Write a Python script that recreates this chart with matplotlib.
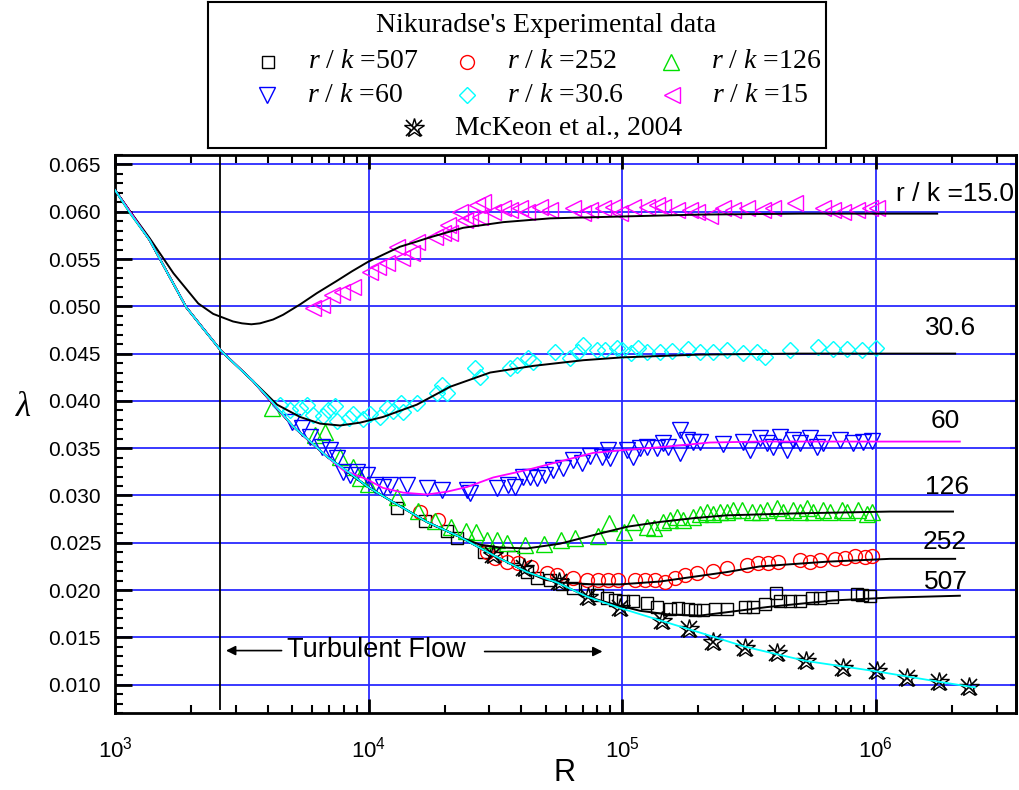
import matplotlib
matplotlib.use("Agg")
import matplotlib.pyplot as plt
from matplotlib.lines import Line2D
from matplotlib.ticker import MultipleLocator, NullLocator, LogLocator, LogFormatterMathtext

plt.rcParams["font.family"] = ["Liberation Sans", "DejaVu Sans"]
plt.rcParams["mathtext.fontset"] = "custom"
plt.rcParams["mathtext.it"] = "Liberation Serif:italic"
plt.rcParams["mathtext.rm"] = "Liberation Serif"

# ---- Nikuradse's data, friction factor vs Reynolds number ----
re_507 = [1.29e4, 1.67e4, 2.04e4, 2.23e4, 2.86e4, 3.72e4, 4.22e4, 4.62e4, 5.20e4, 5.80e4,
          6.41e4, 7.28e4, 7.96e4, 8.73e4, 9.38e4, 1.01e5, 1.10e5, 1.26e5, 1.37e5, 1.55e5,
          1.66e5, 1.82e5, 1.94e5, 2.09e5, 2.33e5, 2.59e5, 3.06e5, 3.29e5, 3.66e5, 4.05e5,
          4.20e5, 4.60e5, 5.04e5, 5.61e5, 6.04e5, 6.73e5, 8.45e5, 8.85e5, 9.51e5]
lam_507 = [0.0287, 0.0273, 0.0262, 0.0255, 0.0240, 0.0235, 0.0219, 0.0213, 0.0211, 0.0206,
           0.0202, 0.0200, 0.0195, 0.0192, 0.0189, 0.0188, 0.0188, 0.0186, 0.0182, 0.0180,
           0.0181, 0.0180, 0.0179, 0.0179, 0.0180, 0.0180, 0.0182, 0.0182, 0.0185, 0.0197,
           0.0188, 0.0188, 0.0188, 0.0192, 0.0192, 0.0193, 0.0196, 0.0195, 0.0194]

re_252 = [1.60e4, 1.88e4, 2.93e4, 3.16e4, 3.52e4, 3.89e4, 4.38e4, 5.06e4, 5.54e4, 6.41e4,
          7.28e4, 8.04e4, 8.81e4, 9.64e4, 1.12e5, 1.23e5, 1.35e5, 1.48e5, 1.62e5, 1.77e5,
          1.98e5, 2.29e5, 2.59e5, 3.11e5, 3.44e5, 3.77e5, 4.12e5, 5.04e5, 5.52e5, 6.04e5,
          6.92e5, 7.59e5, 8.30e5, 9.10e5, 9.69e5]
lam_252 = [0.0283, 0.0274, 0.0240, 0.0234, 0.0230, 0.0229, 0.0224, 0.0218, 0.0216, 0.0213,
           0.0211, 0.0211, 0.0211, 0.0211, 0.0211, 0.0211, 0.0211, 0.0209, 0.0213, 0.0216,
           0.0218, 0.0220, 0.0223, 0.0227, 0.0229, 0.0229, 0.0230, 0.0232, 0.0230, 0.0232,
           0.0233, 0.0234, 0.0236, 0.0235, 0.0236]

re_126 = [4.16e3, 6.15e3, 6.73e3, 7.72e3, 8.69e3, 9.26e3, 9.95e3, 1.29e4, 1.57e4, 1.83e4,
          2.11e4, 2.43e4, 2.66e4, 2.93e4, 3.21e4, 3.52e4, 4.14e4, 4.92e4, 5.74e4, 6.53e4,
          8.04e4, 8.89e4, 1.02e5, 1.10e5, 1.26e5, 1.34e5, 1.45e5, 1.55e5, 1.65e5, 1.74e5,
          1.91e5, 2.03e5, 2.16e5, 2.29e5, 2.44e5, 2.59e5, 2.74e5, 2.97e5, 3.26e5, 3.50e5,
          3.73e5, 4.08e5, 4.32e5, 4.73e5, 5.04e5, 5.37e5, 5.66e5, 6.21e5, 6.62e5, 7.38e5,
          7.73e5, 8.53e5, 9.25e5, 9.69e5]
lam_126 = [0.0393, 0.0364, 0.0367, 0.0341, 0.0330, 0.0319, 0.0312, 0.0298, 0.0284, 0.0273,
           0.0267, 0.0262, 0.0261, 0.0253, 0.0253, 0.0250, 0.0248, 0.0249, 0.0253, 0.0255,
           0.0257, 0.0271, 0.0261, 0.0272, 0.0267, 0.0266, 0.0272, 0.0274, 0.0277, 0.0274,
           0.0277, 0.0280, 0.0283, 0.0280, 0.0282, 0.0283, 0.0285, 0.0285, 0.0283, 0.0282,
           0.0285, 0.0287, 0.0282, 0.0285, 0.0282, 0.0287, 0.0282, 0.0285, 0.0282, 0.0285,
           0.0282, 0.0285, 0.0280, 0.0283]

re_60 = [4.99e3, 5.47e3, 5.88e3, 6.56e3, 7.05e3, 7.51e3, 7.93e3, 8.45e3, 9.01e3, 9.86e3,
         1.06e4, 1.14e4, 1.22e4, 1.42e4, 1.70e4, 1.95e4, 2.45e4, 2.51e4, 3.21e4, 3.55e4,
         3.78e4, 4.07e4, 4.34e4, 4.62e4, 4.97e4, 5.35e4, 5.85e4, 6.41e4, 6.95e4, 7.48e4,
         8.34e4, 8.81e4, 8.97e4, 1.05e5, 1.10e5, 1.18e5, 1.26e5, 1.37e5, 1.45e5, 1.52e5,
         1.69e5, 1.69e5, 1.80e5, 1.91e5, 2.03e5, 2.50e5, 3.00e5, 3.20e5, 3.50e5, 3.73e5,
         3.94e5, 4.20e5, 4.48e5, 4.73e5, 5.04e5, 5.52e5, 5.88e5, 6.21e5, 7.24e5, 8.15e5,
         8.93e5, 9.69e5]
lam_60 = [0.0378, 0.0371, 0.0362, 0.0351, 0.0348, 0.0340, 0.0325, 0.0322, 0.0325, 0.0322,
          0.0311, 0.0309, 0.0311, 0.0311, 0.0308, 0.0306, 0.0306, 0.0303, 0.0308, 0.0311,
          0.0309, 0.0320, 0.0320, 0.0319, 0.0322, 0.0327, 0.0329, 0.0337, 0.0334, 0.0342,
          0.0341, 0.0348, 0.0340, 0.0348, 0.0341, 0.0350, 0.0351, 0.0350, 0.0356, 0.0351,
          0.0369, 0.0345, 0.0359, 0.0357, 0.0357, 0.0354, 0.0357, 0.0348, 0.0361, 0.0356,
          0.0351, 0.0362, 0.0348, 0.0359, 0.0356, 0.0361, 0.0351, 0.0356, 0.0359, 0.0356,
          0.0357, 0.0358]

re_306 = [4.48e3, 4.90e3, 5.37e3, 5.72e3, 6.04e3, 6.62e3, 6.92e3, 7.38e3, 7.51e3, 8.38e3,
          8.69e3, 9.51e3, 1.01e4, 1.11e4, 1.18e4, 1.25e4, 1.34e4, 1.37e4, 1.55e4, 1.86e4,
          1.95e4, 2.04e4, 2.63e4, 2.75e4, 3.61e4, 3.85e4, 4.26e4, 4.46e4, 5.44e4, 6.24e4,
          6.70e4, 7.02e4, 7.96e4, 8.57e4, 9.55e4, 1.00e5, 1.08e5, 1.16e5, 1.26e5, 1.41e5,
          1.57e5, 1.82e5, 2.03e5, 2.29e5, 2.59e5, 3.00e5, 3.41e5, 3.66e5, 4.60e5, 5.93e5,
          6.79e5, 7.73e5, 8.85e5, 1.00e6]
lam_306 = [0.0396, 0.0390, 0.0393, 0.0396, 0.0385, 0.0384, 0.0390, 0.0395, 0.0379, 0.0382,
           0.0386, 0.0381, 0.0386, 0.0383, 0.0392, 0.0389, 0.0398, 0.0388, 0.0398, 0.0408,
           0.0417, 0.0408, 0.0435, 0.0425, 0.0435, 0.0438, 0.0445, 0.0441, 0.0452, 0.0445,
           0.0452, 0.0459, 0.0454, 0.0454, 0.0456, 0.0454, 0.0451, 0.0456, 0.0452, 0.0452,
           0.0453, 0.0455, 0.0452, 0.0452, 0.0454, 0.0451, 0.0452, 0.0446, 0.0454, 0.0457,
           0.0455, 0.0455, 0.0454, 0.0456]

re_15 = [6.04e3, 6.56e3, 7.18e3, 7.86e3, 8.69e3, 1.01e4, 1.09e4, 1.18e4, 1.29e4, 1.36e4,
         1.49e4, 1.55e4, 1.83e4, 1.97e4, 2.06e4, 2.10e4, 2.30e4, 2.40e4, 2.51e4, 2.68e4,
         2.83e4, 2.75e4, 3.10e4, 3.40e4, 3.61e4, 3.96e4, 4.22e4, 4.75e4, 5.20e4, 6.41e4,
         7.02e4, 7.48e4, 8.41e4, 9.21e4, 9.82e4, 1.10e5, 1.26e5, 1.37e5, 1.45e5, 1.65e5,
         1.85e5, 1.98e5, 2.22e5, 2.50e5, 2.74e5, 3.11e5, 3.60e5, 3.94e5, 4.81e5, 6.21e5,
         6.79e5, 7.44e5, 8.45e5, 9.51e5, 1.01e6]
lam_15 = [0.0498, 0.0501, 0.0512, 0.0515, 0.0520, 0.0536, 0.0542, 0.0546, 0.0563, 0.0551,
          0.0556, 0.0568, 0.0573, 0.0577, 0.0586, 0.0578, 0.0600, 0.0591, 0.0593, 0.0607,
          0.0610, 0.0594, 0.0600, 0.0604, 0.0602, 0.0604, 0.0600, 0.0605, 0.0602, 0.0604,
          0.0599, 0.0602, 0.0604, 0.0605, 0.0599, 0.0605, 0.0605, 0.0607, 0.0605, 0.0602,
          0.0602, 0.0600, 0.0596, 0.0604, 0.0602, 0.0604, 0.0602, 0.0604, 0.0609, 0.0604,
          0.0602, 0.0600, 0.0602, 0.0604, 0.0604]

# McKeon et al. (2004) superpipe data
re_mck = [3.10e4, 4.09e4, 5.64e4, 7.34e4, 9.82e4, 1.44e5, 1.84e5, 2.29e5, 3.06e5, 4.08e5,
          5.32e5, 7.44e5, 1.01e6, 1.33e6, 1.78e6, 2.34e6]
lam_mck = [0.0237, 0.0223, 0.0208, 0.0193, 0.0181, 0.0167, 0.0159, 0.0145, 0.0139, 0.0133,
           0.0125, 0.0118, 0.0114, 0.0107, 0.0103, 0.0098]

# ---- model curves ----
re_smooth = [1.00e3, 1.15e3, 1.37e3, 1.62e3, 1.91e3, 2.25e3, 2.62e3, 3.05e3, 3.50e3, 4.20e3,
             5.04e3, 5.90e3, 6.86e3, 8.30e3, 9.95e3, 1.25e4, 1.70e4, 2.30e4, 3.10e4, 4.22e4,
             5.54e4, 7.28e4, 9.82e4, 1.45e5, 2.03e5, 3.06e5, 5.32e5, 1.01e6, 1.78e6, 2.47e6]
lam_smooth = [0.0623, 0.0598, 0.0570, 0.0534, 0.0499, 0.0475, 0.0453, 0.0436, 0.0421, 0.0398,
              0.0373, 0.0357, 0.0341, 0.0325, 0.0309, 0.0293, 0.0272, 0.0256, 0.0237, 0.0219,
              0.0208, 0.0193, 0.0181, 0.0167, 0.0155, 0.0140, 0.0125, 0.0114, 0.0103, 0.0097]

re_fit_15 = [1.00e3, 1.15e3, 1.37e3, 1.70e3, 2.13e3, 2.44e3, 2.92e3, 3.17e3, 3.45e3, 3.73e3,
             4.20e3, 4.60e3, 5.37e3, 6.26e3, 7.51e3, 8.60e3, 9.95e3, 1.15e4, 1.33e4, 1.53e4,
             1.75e4, 2.36e4, 3.40e4, 5.20e4, 1.00e5, 2.03e5, 5.04e5, 1.75e6]
lam_fit_15 = [0.0623, 0.0600, 0.0572, 0.0535, 0.0503, 0.0492, 0.0484, 0.0482, 0.0481, 0.0482,
              0.0486, 0.0491, 0.0502, 0.0514, 0.0527, 0.0537, 0.0547, 0.0555, 0.0563, 0.0568,
              0.0573, 0.0583, 0.0589, 0.0593, 0.0595, 0.0597, 0.0598, 0.0598]

re_fit_306 = [1.00e3, 1.15e3, 1.37e3, 1.62e3, 1.91e3, 2.25e3, 2.62e3, 3.05e3, 3.50e3, 4.36e3,
              5.37e3, 6.44e3, 7.72e3, 9.26e3, 1.14e4, 1.55e4, 2.10e4, 3.02e4, 4.46e4, 7.02e4,
              1.00e5, 2.03e5, 5.04e5, 2.06e6]
lam_fit_306 = [0.0623, 0.0598, 0.0570, 0.0534, 0.0499, 0.0475, 0.0453, 0.0436, 0.0421, 0.0396,
               0.0383, 0.0376, 0.0374, 0.0377, 0.0383, 0.0396, 0.0415, 0.0430, 0.0437, 0.0443,
               0.0446, 0.0449, 0.0450, 0.0450]

re_fit_60 = [1.00e3, 1.37e3, 1.91e3, 2.62e3, 3.50e3, 5.04e3, 6.86e3, 7.93e3, 9.86e3, 1.14e4,
             1.37e4, 1.70e4, 2.04e4, 2.45e4, 3.10e4, 4.22e4, 5.69e4, 7.69e4, 1.01e5, 1.41e5,
             2.22e5, 3.50e5, 1.14e6, 2.15e6]
lam_fit_60 = [0.0623, 0.0570, 0.0499, 0.0453, 0.0421, 0.0373, 0.0341, 0.0327, 0.0317, 0.0308,
              0.0303, 0.0301, 0.0304, 0.0309, 0.0319, 0.0327, 0.0336, 0.0345, 0.0348, 0.0351,
              0.0356, 0.0357, 0.0357, 0.0357]

re_fit_126 = [1.00e3, 1.37e3, 1.91e3, 2.62e3, 3.50e3, 5.04e3, 6.86e3, 9.95e3, 1.25e4, 1.70e4,
              2.30e4, 2.75e4, 3.30e4, 4.22e4, 5.69e4, 7.69e4, 1.05e5, 1.41e5, 1.91e5, 2.59e5,
              4.73e5, 1.14e6, 2.02e6]
lam_fit_126 = [0.0623, 0.0570, 0.0499, 0.0453, 0.0421, 0.0373, 0.0341, 0.0309, 0.0293, 0.0272,
               0.0256, 0.0248, 0.0245, 0.0244, 0.0249, 0.0258, 0.0267, 0.0272, 0.0276, 0.0279,
               0.0281, 0.0283, 0.0283]

re_fit_252 = [1.00e3, 1.37e3, 1.91e3, 2.62e3, 3.50e3, 5.04e3, 6.86e3, 9.95e3, 1.25e4, 1.70e4,
              2.30e4, 3.10e4, 4.22e4, 4.97e4, 5.69e4, 7.69e4, 9.82e4, 1.41e5, 1.91e5, 2.59e5,
              3.50e5, 6.44e5, 1.14e6, 2.06e6]
lam_fit_252 = [0.0623, 0.0570, 0.0499, 0.0453, 0.0421, 0.0373, 0.0341, 0.0309, 0.0293, 0.0272,
               0.0256, 0.0237, 0.0219, 0.0211, 0.0208, 0.0206, 0.0206, 0.0209, 0.0214, 0.0219,
               0.0225, 0.0230, 0.0233, 0.0233]

re_fit_507 = [1.00e3, 1.37e3, 1.91e3, 2.62e3, 3.50e3, 5.04e3, 6.86e3, 9.95e3, 1.25e4, 1.70e4,
              2.30e4, 3.10e4, 4.22e4, 5.54e4, 7.28e4, 8.97e4, 1.18e5, 1.55e5, 2.03e5, 2.67e5,
              3.73e5, 6.79e5, 1.14e6, 2.15e6]
lam_fit_507 = [0.0623, 0.0570, 0.0499, 0.0453, 0.0421, 0.0373, 0.0341, 0.0309, 0.0293, 0.0272,
               0.0256, 0.0237, 0.0219, 0.0208, 0.0193, 0.0186, 0.0178, 0.0174, 0.0173, 0.0177,
               0.0182, 0.0189, 0.0192, 0.0194]

re_transition = 2.6e3

# curve labels: (text, Re, lambda)
curve_labels = [("r / k =15.0", 2.06e6, 0.0619), ("30.6", 1.97e6, 0.0477),
                ("60", 1.88e6, 0.0379), ("126", 1.92e6, 0.0309),
                ("252", 1.88e6, 0.0251), ("507", 1.90e6, 0.0209)]

GREEN = "#00e000"
series = [
    (re_507, lam_507, dict(marker="s", mec="black", ms=9), r"$\mathit{r}$ / $\mathit{k}$ =507"),
    (re_252, lam_252, dict(marker="o", mec="red", ms=10), r"$\mathit{r}$ / $\mathit{k}$ =252"),
    (re_126, lam_126, dict(marker="^", mec=GREEN, ms=11), r"$\mathit{r}$ / $\mathit{k}$ =126"),
    (re_60, lam_60, dict(marker="v", mec="blue", ms=11), r"$\mathit{r}$ / $\mathit{k}$ =60"),
    (re_306, lam_306, dict(marker="D", mec="cyan", ms=8.5), r"$\mathit{r}$ / $\mathit{k}$ =30.6"),
    (re_15, lam_15, dict(marker="<", mec="magenta", ms=12), r"$\mathit{r}$ / $\mathit{k}$ =15"),
]


def mckeon_marker(target, x, y):
    target.plot(x, y, ls="none", marker="*", mfc="none", mec="black", ms=15, mew=1.0, zorder=4)
    target.plot(x, y, ls="none", marker="x", mec="black", ms=11, mew=1.2, zorder=4)


fig = plt.figure(figsize=(10.19, 7.90), dpi=100)
ax = fig.add_axes([115 / 1019, 1 - 713 / 790, 901 / 1019, 558 / 790])
ax.set_xscale("log")
ax.set_xlim(1e3, 3.58e6)
ax.set_ylim(0.007, 0.066)

# blue grid
for yv in [0.010, 0.015, 0.020, 0.025, 0.030, 0.035, 0.040, 0.045, 0.050, 0.055, 0.060, 0.065]:
    ax.axhline(yv, color="#2a2aff", lw=1.3, zorder=1)
for xv in [1e4, 1e5, 1e6]:
    ax.axvline(xv, color="#2a2aff", lw=1.3, zorder=1)
ax.vlines(re_transition, 0.0073, 0.066, color="black", lw=1.3, zorder=2)

for re, lam, st, _ in series:
    ax.plot(re, lam, ls="none", mfc="none", mew=1.0, zorder=3, **st)
mckeon_marker(ax, re_mck, lam_mck)

for re, lam in [(re_fit_15, lam_fit_15), (re_fit_306, lam_fit_306), (re_fit_126, lam_fit_126),
                (re_fit_252, lam_fit_252), (re_fit_507, lam_fit_507)]:
    ax.plot(re, lam, color="black", lw=1.4, zorder=5)
ax.plot(re_fit_60, lam_fit_60, color="magenta", lw=1.3, zorder=5)
ax.plot(re_smooth, lam_smooth, color="cyan", lw=1.3, zorder=6)

for txt, xr, yl in curve_labels:
    ax.text(xr, yl, txt, ha="center", va="center", fontsize=19, zorder=7)

# turbulent flow range
ax.text(4.77e3, 0.0137, "Turbulent Flow", ha="left", va="center", fontsize=19.5)
arrow = dict(arrowstyle="-|>", color="black", lw=1.2, mutation_scale=14, shrinkA=0, shrinkB=0)
ax.annotate("", xy=(2.74e3, 0.0136), xytext=(4.54e3, 0.0136), arrowprops=arrow)
ax.annotate("", xy=(8.37e4, 0.0135), xytext=(2.87e4, 0.0135), arrowprops=arrow)

# axes, ticks
for sp in ax.spines.values():
    sp.set_linewidth(2)
ax.yaxis.set_major_locator(MultipleLocator(0.005))
ax.yaxis.set_minor_locator(MultipleLocator(0.001))
ax.yaxis.set_major_formatter(plt.FormatStrFormatter("%.3f"))
ax.xaxis.set_major_locator(LogLocator(base=10))
ax.xaxis.set_minor_locator(LogLocator(base=10, subs=[2, 3, 4, 5, 6, 7, 8, 9]))
ax.xaxis.set_major_formatter(LogFormatterMathtext())
ax.tick_params(axis="y", which="major", direction="in", length=12, width=2,
               left=True, right=False, labelsize=15, pad=10)
ax.tick_params(axis="y", which="minor", direction="in", length=6, width=1.5,
               left=True, right=False)
ax.tick_params(axis="x", which="major", direction="in", length=10, width=2,
               top=True, bottom=True, labelsize=16, pad=17)
ax.tick_params(axis="x", which="minor", direction="in", length=6, width=1.5,
               top=True, bottom=True, labelbottom=False)
sec = ax.secondary_yaxis("right")
sec.yaxis.set_major_locator(MultipleLocator(0.005))
sec.yaxis.set_minor_locator(NullLocator())
sec.tick_params(direction="in", length=4, width=1.5, labelright=False)
sec.spines["right"].set_linewidth(2)

# axis titles
fig.text(565 / 1019, 1 - 781 / 790, "R", fontsize=22, ha="center", va="baseline")
fig.text(23 / 1019, 1 - 408 / 790, "λ", fontsize=25, family="Liberation Serif",
         style="italic", ha="center", va="center")

# legend panel
lax = fig.add_axes([208 / 1019, 1 - 148 / 790, 618 / 1019, 146 / 790])
lax.set_xlim(208, 826)
lax.set_ylim(148, 2)
lax.set_xticks([])
lax.set_yticks([])
for sp in lax.spines.values():
    sp.set_linewidth(1.5)
lax.text(546, 25, "Nikuradse's Experimental data", ha="center", va="center",
         fontsize=20, family="Liberation Serif")
key_pos = [(268, 62), (467, 62), (671, 62), (267, 95), (467, 95), (672, 95)]
for (kx, ky), (_, _, st, label) in zip(key_pos, series):
    lax.add_line(Line2D([kx], [ky], ls="none", mfc="none", mew=1.0, **st))
    lax.text(kx + 40, ky, label, ha="left", va="center", fontsize=20, family="Liberation Serif")
mckeon_marker(lax, [414], [128])
lax.text(455, 128, "McKeon et al., 2004", ha="left", va="center", fontsize=20,
         family="Liberation Serif")

fig.savefig("out.png", dpi=100, facecolor="white")
